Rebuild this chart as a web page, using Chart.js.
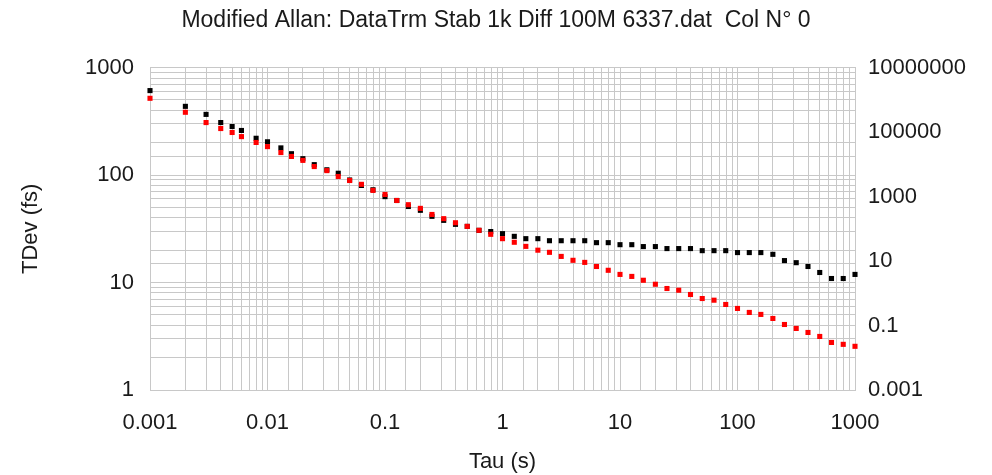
<!DOCTYPE html>
<html>
<head>
<meta charset="utf-8">
<script src="https://cdn.jsdelivr.net/npm/chart.js@4/dist/chart.umd.min.js"></script>
<style>
  body { margin: 0; background: #fff; }
  #chart { display: block; }
</style>
</head>
<body>
<canvas id="chart" width="992" height="475"></canvas>
<script>
const chartTitle = 'Modified Allan: DataTrm Stab 1k Diff 100M 6337.dat  Col N\u00b0 0';

const tau = [0.001, 0.002, 0.003, 0.004, 0.005, 0.006, 0.008, 0.01, 0.013, 0.016,
    0.02, 0.025, 0.032, 0.04, 0.05, 0.063, 0.079, 0.1, 0.126, 0.158,
    0.2, 0.251, 0.316, 0.398, 0.501, 0.631, 0.794, 1, 1.26, 1.58,
    2, 2.51, 3.16, 3.98, 5.01, 6.31, 7.94, 10, 12.6, 15.8,
    20, 25.1, 31.6, 39.8, 50.1, 63.1, 79.4, 100, 126, 158,
    200, 251, 316, 398, 501, 631, 794, 1000];

const tdevBlack = [611, 436, 367, 308, 283, 260, 220, 204, 179, 158,
    142, 125, 112, 104, 90, 80, 73, 63, 58, 51,
    47, 41.3, 37.9, 34.8, 33.3, 30.6, 29.8, 28.5, 26.9, 25.6,
    25.6, 24.5, 24.5, 24.5, 24.5, 23.5, 23.5, 22.5, 22.5, 21.6,
    21.6, 20.7, 20.7, 20.7, 19.8, 19.8, 19.8, 19.0, 19.0, 19.0,
    18.3, 16.0, 15.3, 14.1, 12.4, 10.9, 10.9, 11.9];

const tdevRed = [518, 384, 308, 271, 249, 228, 201, 184, 162, 149,
    137, 120, 110, 97, 89, 82, 72, 66, 58, 53,
    49, 43, 39.3, 36, 33.3, 30.6, 28.1, 25.6, 23.7, 21.7,
    20.0, 19.1, 17.5, 16.1, 15.4, 14.1, 13.0, 11.9, 11.4, 10.5,
    9.64, 8.80, 8.48, 7.74, 7.10, 6.85, 6.25, 5.74, 5.27, 5.05,
    4.63, 4.07, 3.74, 3.43, 3.15, 2.77, 2.66, 2.55];

const xRange = [0.001, 1000];
const yLeftRange = [1, 1000];
const yRightRange = [0.001, 10000000];

const gridColor = '#c8c8c8';
const textColor = '#1a1a1a';
const fontFamily = '"Liberation Sans", Arial, sans-serif';

function isDecade(v) {
    const e = Math.log10(v);
    return Math.abs(e - Math.round(e)) < 1e-6;
}

function fmt(v) {
    return String(Number(v.toPrecision(1)));
}

function toPoints(ys) {
    return tau.map((t, i) => ({ x: t, y: ys[i] }));
}

const ctx = document.getElementById('chart').getContext('2d');

new Chart(ctx, {
    type: 'scatter',
    data: {
        datasets: [{
            label: 'black',
            data: toPoints(tdevBlack),
            backgroundColor: '#000000',
            borderWidth: 0,
            pointStyle: 'rect',
            pointRadius: 3.6,
            clip: false,
            order: 1
        }, {
            label: 'red',
            data: toPoints(tdevRed),
            backgroundColor: '#ff0000',
            borderWidth: 0,
            pointStyle: 'rect',
            pointRadius: 3.6,
            clip: false,
            order: 0
        }]
    },
    options: {
        responsive: false,
        animation: false,
        layout: { padding: 0 },
        plugins: {
            legend: { display: false },
            tooltip: { enabled: false },
            title: {
                display: true,
                text: chartTitle,
                color: textColor,
                font: { family: fontFamily, size: 23, weight: 'normal' },
                padding: { top: 7, bottom: 33 }
            }
        },
        scales: {
            x: {
                type: 'logarithmic',
                position: 'bottom',
                min: xRange[0],
                max: xRange[1],
                afterFit: s => { s.height = 85; },
                grid: { color: gridColor, drawTicks: false },
                border: { color: gridColor },
                ticks: {
                    autoSkip: false,
                    maxRotation: 0,
                    padding: 20,
                    color: textColor,
                    font: { family: fontFamily, size: 22 },
                    callback: v => isDecade(v) ? fmt(v) : ''
                },
                title: {
                    display: true,
                    text: 'Tau (s)',
                    color: textColor,
                    font: { family: fontFamily, size: 22 },
                    padding: { top: 6, bottom: 0 }
                }
            },
            y: {
                type: 'logarithmic',
                position: 'left',
                min: yLeftRange[0],
                max: yLeftRange[1],
                afterFit: s => { s.width = 150; },
                grid: { color: gridColor, drawTicks: false },
                border: { color: gridColor },
                ticks: {
                    autoSkip: false,
                    padding: 16,
                    color: textColor,
                    font: { family: fontFamily, size: 22 },
                    callback: v => isDecade(v) ? fmt(v) : ''
                },
                title: {
                    display: true,
                    text: 'TDev (fs)',
                    color: textColor,
                    font: { family: fontFamily, size: 22 },
                    padding: { top: 18, bottom: 0 }
                }
            },
            y2: {
                type: 'logarithmic',
                position: 'right',
                min: yRightRange[0],
                max: yRightRange[1],
                afterFit: s => { s.width = 137; },
                grid: { drawOnChartArea: false, drawTicks: false },
                border: { color: gridColor },
                ticks: {
                    autoSkip: false,
                    padding: 13,
                    color: textColor,
                    font: { family: fontFamily, size: 22 },
                    callback: v => (isDecade(v) && Math.round(Math.log10(v)) % 2 !== 0) ? fmt(v) : ''
                }
            }
        }
    }
});
</script>
</body>
</html>
